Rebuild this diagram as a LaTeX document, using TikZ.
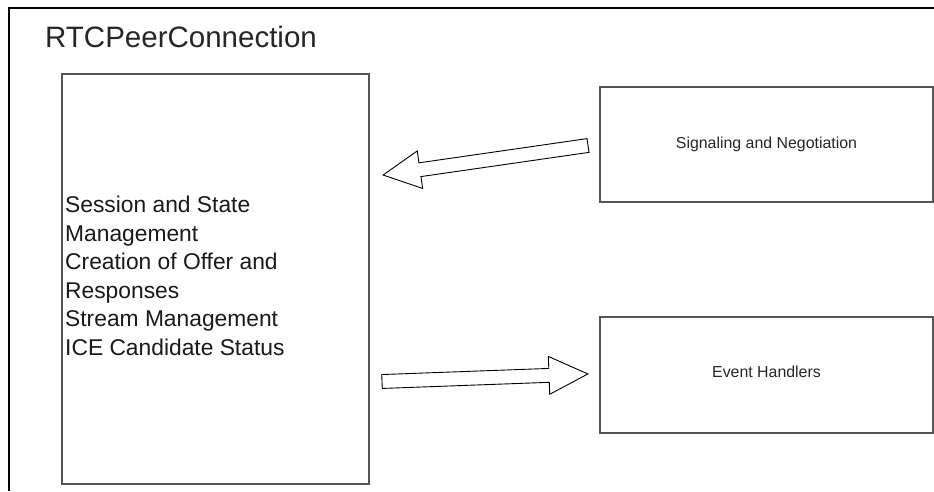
\documentclass[tikz,border=0pt]{standalone}
\usepackage{fontspec}
\setmainfont{Liberation Sans}
\usetikzlibrary{shapes.arrows}
\definecolor{boxgray}{HTML}{555555}
\tikzset{
  block/.style={draw=boxgray,line width=1.5pt,minimum width=333pt,minimum height=115pt,
    font=\fontsize{15.9}{19}\selectfont,text=black!85},
  blockarrow/.style={single arrow,draw=black,line width=0.9pt,inner sep=6.5pt,outer sep=0pt,
    single arrow head extend=12pt,single arrow head indent=0pt,anchor=tail}
}
\begin{document}
\begin{tikzpicture}[x=1pt,y=1pt]
\useasboundingbox (0,0) rectangle (934,491);
\draw[line width=1.5pt] (9,0) -- (9,483) -- (934,483); % edit here for the frame
\node[anchor=base west,inner sep=0pt,font=\fontsize{29.5}{35}\selectfont,text=black!85] (title) at (45,443) {RTCPeerConnection};

\node[draw=boxgray,line width=1.5pt,minimum width=307pt,minimum height=410pt] (peer) at (215.5,212) {};
\node[anchor=west,inner sep=0pt,align=left,font=\fontsize{22.8}{28.5}\selectfont,text=black!90] (tasks) at (65,215.3)
  {Session and State\\Management\\Creation of Offer and\\Responses\\Stream Management\\ICE Candidate Status};

\node[block] (signal) at (766.5,346.5) {Signaling and Negotiation};
\node[block,minimum height=116pt] (events) at (766.5,116) {\raisebox{7pt}{Event Handlers}};

% edit here for the arrows
\node[blockarrow,minimum height=207pt,rotate=188.2,single arrow tip angle=54] (toPeer) at (588,345.5) {};
\node[blockarrow,minimum height=206pt,rotate=2.1,single arrow tip angle=52] (toEvents) at (382,109.5) {};
\end{tikzpicture}
\end{document}
